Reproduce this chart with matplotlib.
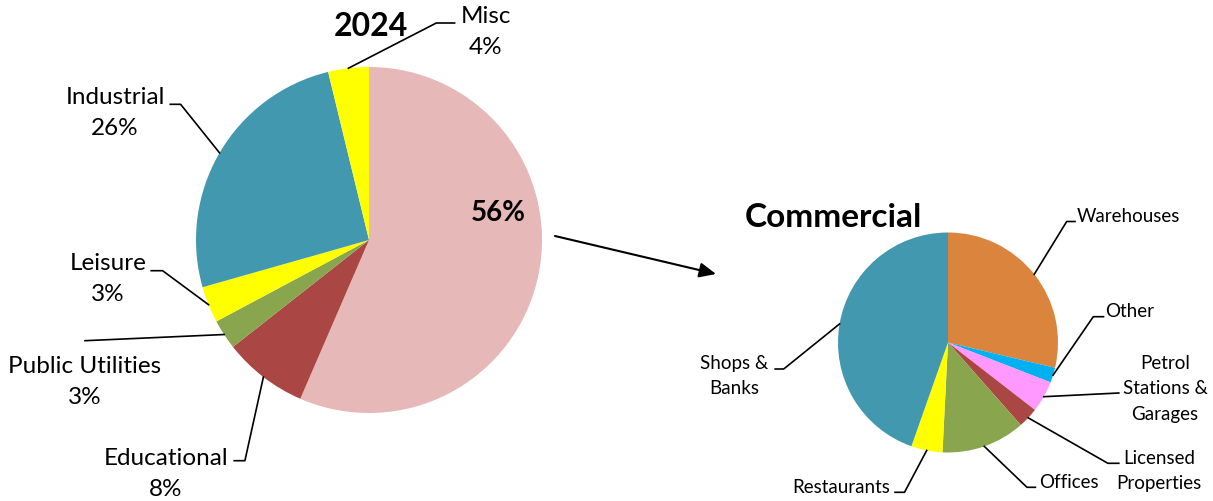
import numpy as np
import matplotlib
matplotlib.use("Agg")
import matplotlib.pyplot as plt

plt.rcParams['font.family'] = ['Lato', 'DejaVu Sans']

# 2024 breakdown (left pie)
main_labels = ['Commercial', 'Educational', 'Public Utilities', 'Leisure', 'Industrial', 'Misc']
main_values = [56.5, 7.9, 2.8, 3.4, 25.6, 3.8]
main_colors = ['#E6B8B7', '#AA4643', '#89A54E', '#FFFF00', '#4198AF', '#FFFF00']

# Commercial breakdown (right pie)
sub_labels = ['Warehouses', 'Other', 'Petrol\nStations &\nGarages', 'Licensed\nProperties',
              'Offices', 'Restaurants', 'Shops &\nBanks']
sub_values = [28.7, 2.2, 4.6, 3.0, 12.3, 4.6, 44.6]
sub_colors = ['#DB843D', '#00B0F0', '#FF99FF', '#AA4643', '#89A54E', '#FFFF00', '#4198AF']

W, H = 1213, 502
fig = plt.figure(figsize=(W / 100, H / 100), dpi=100)


def pie_axes(cx, cy, r):
    # square axes in pixels, top-origin coords
    return fig.add_axes([(cx - r) / W, (H - cy - r) / H, 2 * r / W, 2 * r / H])


def draw_pie(cx, cy, r, values, colors):
    ax = pie_axes(cx, cy, r)
    wedges, _ = ax.pie(values, colors=colors, startangle=90, counterclock=False,
                       radius=1, wedgeprops=dict(linewidth=0, clip_on=False))
    ax.set_xlim(-1, 1)
    ax.set_ylim(-1, 1)
    ax.set_aspect('auto')
    ax.axis('off')
    # edge point of each wedge's middle, in pixel coords
    pts = []
    for w in wedges:
        th = np.deg2rad((w.theta1 + w.theta2) / 2)
        pts.append((cx + r * np.cos(th), cy - r * np.sin(th)))
    return pts


left_pts = draw_pie(369, 241, 173, main_values, main_colors)
right_pts = draw_pie(948, 343.5, 110, sub_values, sub_colors)

ov = fig.add_axes([0, 0, 1, 1])
ov.set_xlim(0, W)
ov.set_ylim(H, 0)
ov.axis('off')
ov.patch.set_alpha(0)

lw = 1.2
FS = 17.5
FS2 = 13.5

# left pie labels: (elbow, end, text position)
left_layout = {
    'Educational': ((244.9, 461.7), (234.2, 461.7), (166, 474)),
    'Public Utilities': ((85, 341.7), (85, 341.7), (85, 382)),
    'Leisure': ((162.6, 271.7), (151.2, 271.7), (108, 279)),
    'Industrial': ((180.6, 105.3), (170.3, 105.3), (115, 113)),
    'Misc': ((436.3, 24), (454.6, 24), (486, 32)),
}
for name, val, pt in zip(main_labels, main_values, left_pts):
    if name == 'Commercial':
        ov.text(498, 213, f'{val:.0f}%', fontsize=20, fontweight='bold',
                ha='center', va='center')
        continue
    elbow, end, tpos = left_layout[name]
    ov.plot([pt[0], elbow[0], end[0]], [pt[1], elbow[1], end[1]], color='black', lw=lw)
    ov.text(tpos[0], tpos[1], f'{name}\n{val:.0f}%', fontsize=FS, ha='center',
            va='center', linespacing=1.6)

ov.text(371, 27, '2024', fontsize=23, fontweight='bold', ha='center', va='center')

# right pie labels
right_layout = {
    'Warehouses': ((1066.7, 222.5), (1075, 222.5), (1077, 217, 'left')),
    'Other': ((1093.3, 317.7), (1103.5, 317.7), (1105, 312, 'left')),
    'Petrol\nStations &\nGarages': ((1118.8, 394), (1118.8, 394), (1165, 389, 'center')),
    'Licensed\nProperties': ((1107.9, 464.3), (1118.8, 464.3), (1159, 471, 'center')),
    'Offices': ((1027, 488.3), (1035.4, 488.3), (1069, 483, 'center')),
    'Restaurants': ((904.5, 493.3), (895, 493.3), (841, 488, 'center')),
    'Shops &\nBanks': ((783.7, 370), (775.2, 370), (734, 376, 'center')),
}
for name, pt in zip(sub_labels, right_pts):
    elbow, end, (tx, ty, ha) = right_layout[name]
    ov.plot([pt[0], elbow[0], end[0]], [pt[1], elbow[1], end[1]], color='black', lw=lw)
    ov.text(tx, ty, name, fontsize=FS2, ha=ha, va='center', linespacing=1.6)

ov.text(833, 218, 'Commercial', fontsize=24, fontweight='bold', ha='center', va='center')

# arrow from the Commercial slice to its breakdown
ov.annotate('', xy=(716, 275), xytext=(555, 237),
            arrowprops=dict(arrowstyle='-|>,head_length=1.0,head_width=0.45',
                            color='black', lw=1.5, shrinkA=0, shrinkB=0))

fig.savefig('out.png', dpi=100)
